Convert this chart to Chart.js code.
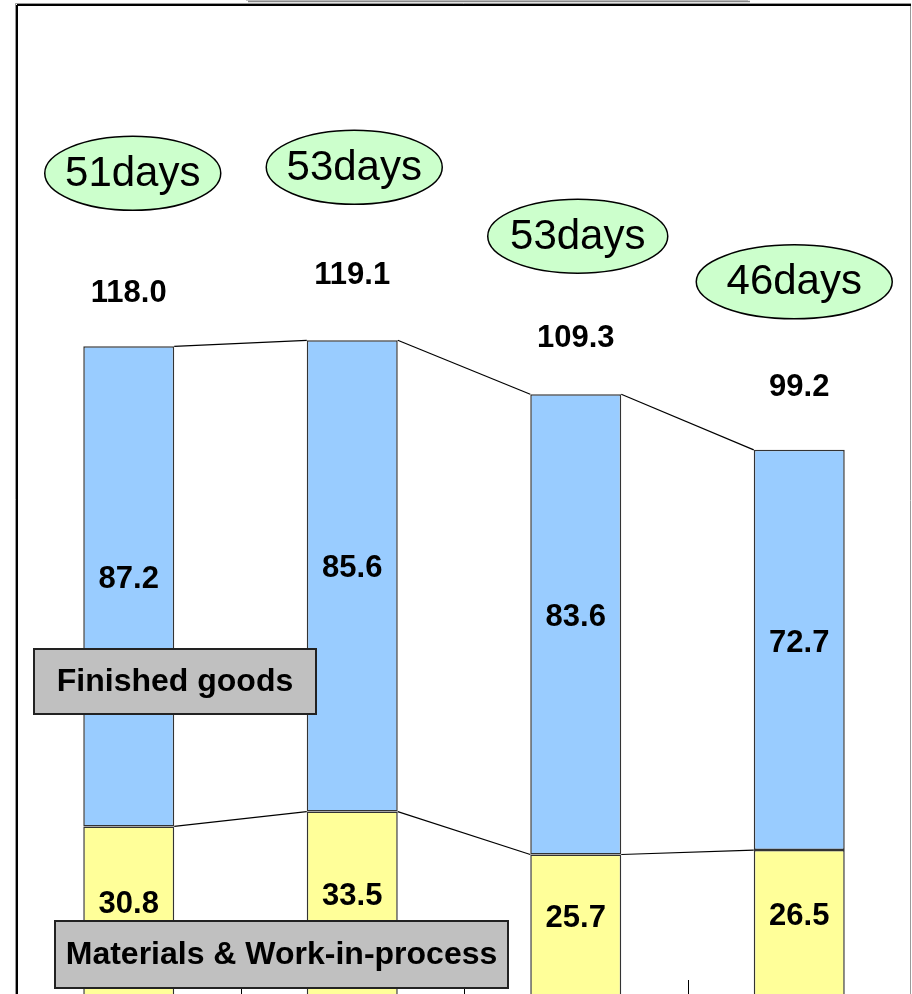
<!DOCTYPE html>
<html>
<head>
<meta charset="utf-8">
<script src="https://cdn.jsdelivr.net/npm/chart.js@4/dist/chart.umd.min.js"></script>
<style>
  html, body { margin: 0; padding: 0; background: #fff; overflow: hidden; }
  #wrap { position: absolute; left: 0; top: 0; width: 912px; height: 1040px; }
</style>
</head>
<body>
<div id="wrap"><canvas id="inventory" width="912" height="1040"></canvas></div>
<script>
// inventory breakdown per period (bottom of chart is cropped in the original)
const categories = ['Period 1', 'Period 2', 'Period 3', 'Period 4'];
const materialsWip = [30.8, 33.5, 25.7, 26.5];
const finishedGoods = [87.2, 85.6, 83.6, 72.7];
const totals = [118.0, 119.1, 109.3, 99.2];
const inventoryDays = ['51days', '53days', '53days', '46days'];

// annotation placement (pixels above the top of each stack)
const totalOffsets = [53, 65, 56, 62];
const badgeOffsets = [173, 173, 158, 168];
const badgeShift = [4, 2, 2, -5];
const badgeRadius = [88, 88, 90, 98];

const FONT = '"Liberation Sans", Arial, sans-serif';

function line(ctx, x1, y1, x2, y2) {
    ctx.beginPath();
    ctx.moveTo(x1, y1);
    ctx.lineTo(x2, y2);
    ctx.stroke();
}

function labelBox(ctx, x, y, w, h, text) {
    ctx.fillStyle = '#C0C0C0';
    ctx.fillRect(x, y, w, h);
    ctx.strokeStyle = '#222';
    ctx.lineWidth = 2;
    ctx.strokeRect(x, y, w, h);
    ctx.fillStyle = '#000';
    ctx.font = 'bold 32px ' + FONT;
    ctx.textAlign = 'center';
    ctx.textBaseline = 'middle';
    ctx.fillText(text, x + w / 2, y + h / 2 + 1);
}

const annotations = {
    id: 'annotations',
    afterDatasetsDraw(chart) {
        const ctx = chart.ctx;
        const area = chart.chartArea;
        const xScale = chart.scales.x;
        const lower = chart.getDatasetMeta(0).data;
        const upper = chart.getDatasetMeta(1).data;
        ctx.save();

        // frame of the plot area
        ctx.strokeStyle = '#999';
        ctx.lineWidth = 1;
        line(ctx, area.left - 1.5, area.top - 1.5, area.right, area.top - 1.5);
        line(ctx, area.left - 1.5, area.top - 1.5, area.left - 1.5, area.bottom);
        line(ctx, area.right - 0.5, area.top, area.right - 0.5, area.bottom);
        ctx.strokeStyle = '#000';
        ctx.lineWidth = 2;
        line(ctx, area.left, area.top, area.right, area.top);
        line(ctx, area.left, area.top, area.left, area.bottom);

        // inside tick marks between categories
        ctx.lineWidth = 1;
        for (let i = 1; i < categories.length; i++) {
            const x = Math.round((xScale.getPixelForValue(i - 1) + xScale.getPixelForValue(i)) / 2) + 0.5;
            line(ctx, x, area.bottom - 16, x, area.bottom);
        }

        // connectors between stacks
        ctx.lineWidth = 1.2;
        [lower, upper].forEach(bars => {
            for (let i = 0; i < bars.length - 1; i++) {
                const a = bars[i], b = bars[i + 1];
                line(ctx, a.x + a.width / 2, a.y, b.x - b.width / 2, b.y);
            }
        });

        // segment values
        ctx.fillStyle = '#000';
        ctx.font = 'bold 31px ' + FONT;
        ctx.textAlign = 'center';
        ctx.textBaseline = 'middle';
        [[lower, materialsWip], [upper, finishedGoods]].forEach(([bars, values]) => {
            bars.forEach((bar, i) => {
                ctx.fillText(values[i].toFixed(1), bar.x, (bar.y + bar.base) / 2 - 7);
            });
        });

        // totals
        upper.forEach((bar, i) => {
            ctx.fillText(totals[i].toFixed(1), bar.x, bar.y - totalOffsets[i]);
        });

        // series captions
        labelBox(ctx, 34, 649, 282, 65, 'Finished goods');
        labelBox(ctx, 55, 921, 453, 67, 'Materials & Work-in-process');

        // days badges
        upper.forEach((bar, i) => {
            const cx = bar.x + badgeShift[i];
            const cy = bar.y - badgeOffsets[i];
            ctx.beginPath();
            ctx.ellipse(cx, cy, badgeRadius[i], 37, 0, 0, Math.PI * 2);
            ctx.fillStyle = '#CCFFCC';
            ctx.fill();
            ctx.strokeStyle = '#000';
            ctx.lineWidth = 1.5;
            ctx.stroke();
            ctx.fillStyle = '#000';
            ctx.font = '42px ' + FONT;
            ctx.fillText(inventoryDays[i], cx, cy + 1);
        });

        // bottom edge of the (cropped) title box
        ctx.fillStyle = '#C8C8C8';
        ctx.fillRect(246, -10, 502, 11);
        ctx.strokeStyle = '#888';
        ctx.lineWidth = 1.5;
        line(ctx, 248, 1.5, 750, 1.5);

        ctx.restore();
    }
};

new Chart(document.getElementById('inventory').getContext('2d'), {
    type: 'bar',
    data: {
        labels: categories,
        datasets: [{
            label: 'Materials & Work-in-process',
            data: materialsWip,
            backgroundColor: '#FFFF99',
            borderColor: '#333',
            borderWidth: 1.5,
            borderSkipped: false,
            categoryPercentage: 0.407,
            barPercentage: 1,
        }, {
            label: 'Finished goods',
            data: finishedGoods,
            backgroundColor: '#99CCFF',
            borderColor: '#333',
            borderWidth: 1.5,
            borderSkipped: false,
            categoryPercentage: 0.407,
            barPercentage: 1,
        }],
    },
    options: {
        responsive: false,
        animation: false,
        layout: { padding: { left: 17, top: 5, right: 1, bottom: 44 } },
        scales: {
            x: { display: false, stacked: true },
            y: { display: false, stacked: true, min: 0, max: 180 },
        },
        plugins: {
            legend: { display: false },
            tooltip: { enabled: false },
        },
    },
    plugins: [annotations],
});
</script>
</body>
</html>
